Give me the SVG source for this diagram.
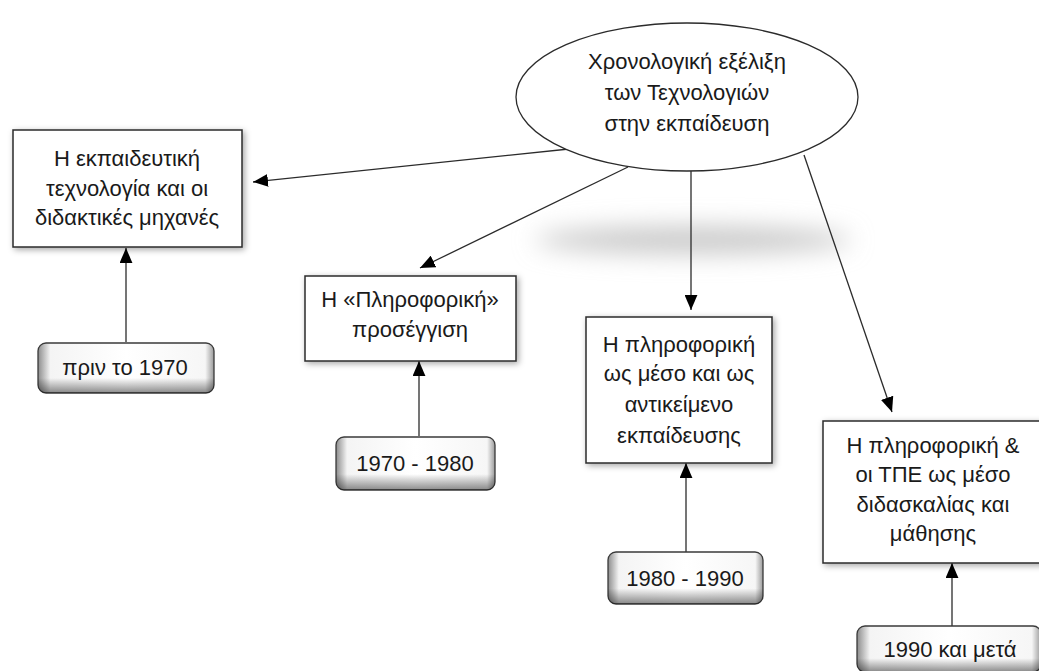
<svg xmlns="http://www.w3.org/2000/svg" width="1039" height="671" viewBox="0 0 1039 671">
<defs>
<style>
text{font-family:"Liberation Sans",Arial,sans-serif;font-size:22px;fill:#1a1a1a;text-anchor:middle}
.box{fill:#fff;stroke:#2b2b2b;stroke-width:1.5;filter:url(#sh)}
.date{stroke:#3a3a3a;stroke-width:1.3}
.conn{stroke:#2b2b2b;stroke-width:1.3;fill:none;marker-end:url(#ah)}
</style>
<filter id="sh" x="-10%" y="-10%" width="125%" height="125%">
<feDropShadow dx="2" dy="2" stdDeviation="3" flood-color="#000" flood-opacity="0.35"/>
</filter>
<filter id="blob" x="-30%" y="-200%" width="160%" height="500%">
<feGaussianBlur stdDeviation="12"/>
</filter>
<linearGradient id="gh" x1="0" y1="0" x2="1" y2="0">
<stop offset="0" stop-color="#8c8c8c"/>
<stop offset="0.07" stop-color="#f4f4f4"/>
<stop offset="0.5" stop-color="#ffffff"/>
<stop offset="0.95" stop-color="#f6f6f6"/>
<stop offset="1" stop-color="#9a9a9a"/>
</linearGradient>
<linearGradient id="gv" x1="0" y1="0" x2="0" y2="1">
<stop offset="0" stop-color="#000" stop-opacity="0"/>
<stop offset="0.7" stop-color="#000" stop-opacity="0"/>
<stop offset="1" stop-color="#000" stop-opacity="0.45"/>
</linearGradient>
<marker id="ah" viewBox="0 0 14 12" refX="14" refY="6" markerWidth="15" markerHeight="13" markerUnits="userSpaceOnUse" orient="auto">
<path d="M0,0 L14,6 L0,12 Z" fill="#000"/>
</marker>
</defs>
<rect width="1039" height="671" fill="#fff"/>

<ellipse cx="693" cy="240" rx="158" ry="14" fill="#cacaca" filter="url(#blob)"/>

<g id="connectors">
<line class="conn" x1="569" y1="149" x2="253" y2="182"/>
<line class="conn" x1="628" y1="167" x2="420" y2="268"/>
<line class="conn" x1="691" y1="171" x2="691" y2="310"/>
<line class="conn" x1="804" y1="155" x2="892" y2="412"/>
<line class="conn" x1="126" y1="342" x2="126" y2="248"/>
<line class="conn" x1="419" y1="436" x2="419" y2="361"/>
<line class="conn" x1="686" y1="552" x2="686" y2="463"/>
<line class="conn" x1="952" y1="626" x2="952" y2="563"/>
</g>

<g id="root">
<ellipse cx="687" cy="97" rx="171" ry="74" fill="#fff" stroke="#2b2b2b" stroke-width="1.3"/>
<text x="687" y="69">Χρονολογική εξέλιξη</text>
<text x="687" y="100">των Τεχνολογιών</text>
<text x="687" y="131">στην εκπαίδευση</text>
</g>

<g id="n1">
<rect class="box" x="13" y="130" width="229" height="117"/>
<text x="127" y="166">Η εκπαιδευτική</text>
<text x="127" y="196">τεχνολογία και οι</text>
<text x="127" y="225">διδακτικές μηχανές</text>
</g>

<g id="n2">
<rect class="box" x="305" y="276" width="211" height="85"/>
<text x="410" y="307">Η «Πληροφορική»</text>
<text x="410" y="337">προσέγγιση</text>
</g>

<g id="n3">
<rect class="box" x="586" y="317" width="186" height="146"/>
<text x="679" y="352">Η πληροφορική</text>
<text x="679" y="381">ως μέσο και ως</text>
<text x="679" y="412">αντικείμενο</text>
<text x="679" y="443">εκπαίδευσης</text>
</g>

<g id="n4">
<rect class="box" x="823" y="421" width="221" height="142"/>
<text x="933" y="453">Η πληροφορική &amp;</text>
<text x="933" y="482">οι ΤΠΕ ως μέσο</text>
<text x="933" y="512">διδασκαλίας και</text>
<text x="933" y="541">μάθησης</text>
</g>

<g id="d1">
<rect class="date" x="38" y="343" width="176" height="50" rx="8" fill="url(#gh)"/>
<rect x="38" y="343" width="176" height="50" rx="8" fill="url(#gv)"/>
<text x="125" y="375">πριν το 1970</text>
</g>

<g id="d2">
<rect class="date" x="336" y="437" width="159" height="53" rx="8" fill="url(#gh)"/>
<rect x="336" y="437" width="159" height="53" rx="8" fill="url(#gv)"/>
<text x="415" y="471">1970 - 1980</text>
</g>

<g id="d3">
<rect class="date" x="608" y="552" width="155" height="52" rx="8" fill="url(#gh)"/>
<rect x="608" y="552" width="155" height="52" rx="8" fill="url(#gv)"/>
<text x="685" y="586">1980 - 1990</text>
</g>

<g id="d4">
<rect class="date" x="857" y="626" width="184" height="46" rx="8" fill="url(#gh)"/>
<rect x="857" y="626" width="184" height="46" rx="8" fill="url(#gv)"/>
<text x="950" y="657">1990 και μετά</text>
</g>
</svg>
